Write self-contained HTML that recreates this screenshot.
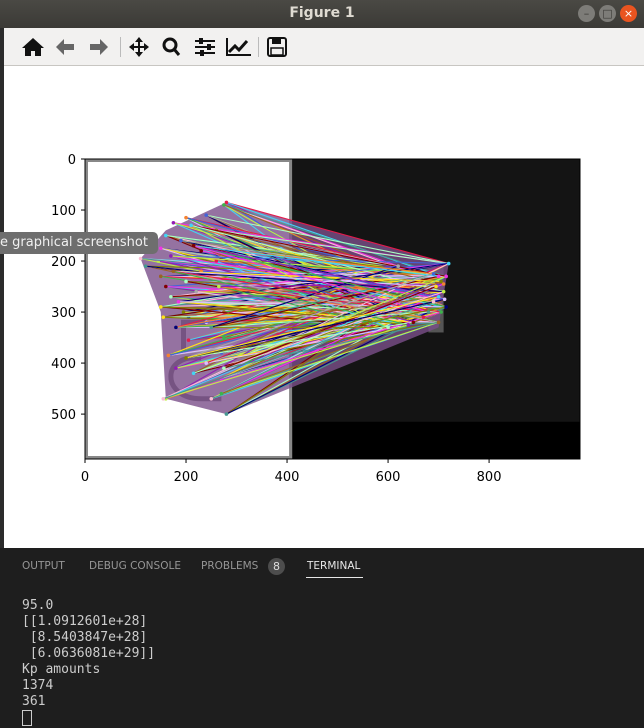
<!DOCTYPE html>
<html><head><meta charset="utf-8">
<style>
body{margin:0;width:644px;height:725px;overflow:hidden;background:#1e1e1e;font-family:"DejaVu Sans","Liberation Sans",sans-serif;position:relative}
#title{position:absolute;left:0;top:0;width:644px;height:28px;background:linear-gradient(#4a4944,#3b3a36);color:#dfdbd2;font-weight:bold;font-size:14px;text-align:center;line-height:27px}
.wb{position:absolute;top:5px;width:17px;height:17px;border-radius:50%;background:#7d7c78;color:#3b3a36;font-size:11px;text-align:center;line-height:17px}
#toolbar{position:absolute;left:0;top:28px;width:644px;height:37px;background:#f2f1f0;border-bottom:1px solid #c8c6c2}
#fig{position:absolute;left:4px;top:66px;width:640px;height:482px;background:#fff}
#edge{position:absolute;left:0;top:28px;width:4px;height:520px;background:#2b2b2b}
#tip{position:absolute;left:0;top:232px;width:158px;height:22px;background:#6e6e6e;border-radius:0 5px 5px 0;color:#f0f0f0;font-size:13px;line-height:22px;text-indent:0}
#term{position:absolute;left:0;top:548px;width:644px;height:177px;background:#1e1e1e}
.tab{position:absolute;top:12px;font-size:10.5px;color:#969696;font-family:"DejaVu Sans",sans-serif}
pre{position:absolute;left:22px;top:50px;margin:0;font-family:"DejaVu Sans Mono","Liberation Mono",monospace;font-size:13px;line-height:16px;color:#cccccc}
</style></head><body>
<div id="title">Figure 1</div>
<div class="wb" style="left:578px">–</div>
<div class="wb" style="left:599px">□</div>
<div class="wb" style="left:620px;background:#e95420;color:#fff">×</div>
<div id="toolbar">
<svg width="300" height="37">
<g fill="#111">
<path d="M33 10 L22 20 h3 v8 h6 v-5 h4 v5 h6 v-8 h3 z"/>
<path fill="#666" d="M56 19 l8 -8 v5 h10 v6 h-10 v5 z"/>
<path fill="#666" d="M108 19 l-8 -8 v5 h-10 v6 h10 v5 z"/>
<path d="M139 9 l4 5 h-3 v4 h4 v-3 l5 4 -5 4 v-3 h-4 v4 h3 l-4 5 -4 -5 h3 v-4 h-4 v3 l-5 -4 5 -4 v3 h4 v-4 h-3 z"/>
<g><circle cx="170" cy="17" r="6" fill="none" stroke="#111" stroke-width="3"/><path d="M174 21 l5 6" stroke="#111" stroke-width="3"/></g>
<g><rect x="195" y="12" width="20" height="2"/><rect x="195" y="18" width="20" height="2"/><rect x="195" y="24" width="20" height="2"/><rect x="199" y="10" width="4" height="6"/><rect x="207" y="16" width="4" height="6"/><rect x="200" y="22" width="4" height="6"/></g>
<g><path d="M227 10 v17 h24" fill="none" stroke="#111" stroke-width="2"/><path d="M229 24 l6 -6 4 4 8 -9" fill="none" stroke="#111" stroke-width="3"/></g>
<g><rect x="268" y="10" width="18" height="18" rx="2" fill="none" stroke="#111" stroke-width="2"/><rect x="272" y="10" width="9" height="6"/><rect x="271" y="20" width="12" height="7" fill="none" stroke="#111" stroke-width="1.5"/></g>
</g>
<g fill="#bbb"><rect x="120" y="9" width="1" height="20"/><rect x="258" y="9" width="1" height="20"/></g>
</svg></div>
<div id="edge"></div>
<div id="fig">
<svg id="plot" width="640" height="482" style="position:absolute;left:-4px;top:-66px;overflow:visible"></svg>
</div>
<div id="tip">e graphical screenshot</div>
<div id="term">
<span class="tab" style="left:22px">OUTPUT</span>
<span class="tab" style="left:89px">DEBUG CONSOLE</span>
<span class="tab" style="left:201px">PROBLEMS</span>
<span style="position:absolute;left:268px;top:10px;width:17px;height:17px;border-radius:50%;background:#4d4d4d;color:#ddd;font-size:11px;text-align:center;line-height:17px">8</span>
<span class="tab" style="left:307px;color:#e7e7e7">TERMINAL</span>
<div style="position:absolute;left:306px;top:29px;width:57px;height:1px;background:#e7e7e7"></div>
<pre>95.0
[[1.0912601e+28]
 [8.5403847e+28]
 [6.0636081e+29]]
Kp amounts
1374
361
<span style="display:inline-block;width:8px;height:14px;border:1px solid #ccc;vertical-align:-3px"></span></pre>
</div>
<script>
const xTicks=[0,200,400,600,800];
const yTicks=[0,100,200,300,400,500];
const imgW=980, imgH=588, leftW=410, darkH=515;
const leftPts=[[280,85],[275,90],[240,110],[200,115],[175,125],[160,150],[150,175],[145,200],[110,195],[120,210],[150,230],[160,250],[170,270],[195,300],[205,310],[225,280],[155,310],[240,320],[205,355],[275,350],[270,380],[165,385],[180,410],[215,420],[270,430],[160,470],[250,470],[280,500],[275,300],[230,180],[200,240],[260,140],[180,330],[220,260],[150,290],[240,400],[260,200],[270,460],[190,160],[230,220],[170,190],[210,130],[185,280],[265,250],[155,470],[250,330],[175,220],[215,170],[275,410],[200,390]];
const rightPts=[[720,205],[700,230],[710,260],[690,280],[680,300],[700,320],[650,320],[600,330],[705,240],[715,290],[620,210],[695,250],[712,275],[670,310],[705,300],[690,225],[710,245],[640,325],[700,270],[715,230]];
const palette=["#e6194b","#3cb44b","#4363d8","#f58231","#911eb4","#42d4f4","#f032e6","#bfef45","#fabed4","#469990","#9a6324","#800000","#aaffc3","#808000","#000075","#a9a9a9","#ffe119","#dcbeff"];
const svg=document.getElementById('plot'),NS='http://www.w3.org/2000/svg';
const X0=85,X1=580,Y0=159,Y1=459;
const sx=v=>X0+v*(X1-X0)/imgW, sy=v=>Y0+v*(Y1-Y0)/imgH;
function mk(t,a,p){const e=document.createElementNS(NS,t);for(const k in a)e.setAttribute(k,a[k]);(p||svg).appendChild(e);return e;}
let e;
e=mk('rect',{x:sx(leftW),y:Y0,width:X1-sx(leftW),height:Y1-Y0,fill:'#000'});


e=mk('rect',{x:sx(leftW),y:Y0,width:X1-sx(leftW),height:sy(darkH)-Y0,fill:'#141414'});


e=mk('rect',{x:X0+1.5,y:Y0+1.5,width:sx(leftW)-X0-3,height:Y1-Y0-3,fill:'#fff',stroke:'#888','stroke-width':3});


e=mk('rect',{x:sx(680),y:sy(210),width:sx(30)-X0,height:sy(130)-Y0,fill:'#555'});


e=mk('path',{d:`M${sx(240)} ${sy(320)} h${-sx(45)+X0} v${sy(60)-Y0} M${sx(230)} ${sy(390)} C${sx(150)} ${sy(380)} ${sx(150)} ${sy(470)} ${sx(230)} ${sy(470)} h${sx(40)-X0}`,fill:'none',stroke:'#666','stroke-width':5});


e=mk('polygon',{points:`${sx(280)},${sy(85)} ${sx(720)},${sy(205)} ${sx(700)},${sy(330)} ${sx(280)},${sy(500)} ${sx(160)},${sy(470)} ${sx(150)},${sy(300)} ${sx(110)},${sy(195)} ${sx(160)},${sy(140)}`,fill:'#7a4f8a','fill-opacity':0.8});


const g=mk('g',{'stroke-width':1.1});
leftPts.forEach((p,i)=>{for(let k=0;k<6;k++){const r=rightPts[(i*7+k*3)%rightPts.length];const c=palette[(i*5+k)%palette.length];
const l=mk('line',{x1:sx(p[0]),y1:sy(p[1]),x2:sx(r[0]),y2:sy(r[1]),stroke:c},g);

}
const c=mk('circle',{cx:sx(p[0]),cy:sy(p[1]),r:1.8,fill:palette[i%palette.length]},g);

});
rightPts.forEach((r,i)=>{const c=mk('circle',{cx:sx(r[0]),cy:sy(r[1]),r:1.8,fill:palette[(i+5)%palette.length]},g);

});
e=mk('rect',{x:X0,y:Y0,width:X1-X0,height:Y1-Y0,fill:'none',stroke:'#000','stroke-width':1});


xTicks.forEach(v=>{mk('line',{x1:sx(v),x2:sx(v),y1:Y1,y2:Y1+4,stroke:'#000'});
const t=mk('text',{x:sx(v),y:Y1+22,'text-anchor':'middle','font-size':13,fill:'#000'});t.textContent=v;

});
yTicks.forEach(v=>{mk('line',{x1:X0-4,x2:X0,y1:sy(v),y2:sy(v),stroke:'#000'});
const t=mk('text',{x:X0-9,y:sy(v)+5,'text-anchor':'end','font-size':13,fill:'#000'});t.textContent=v;

});
</script>
</body></html>
